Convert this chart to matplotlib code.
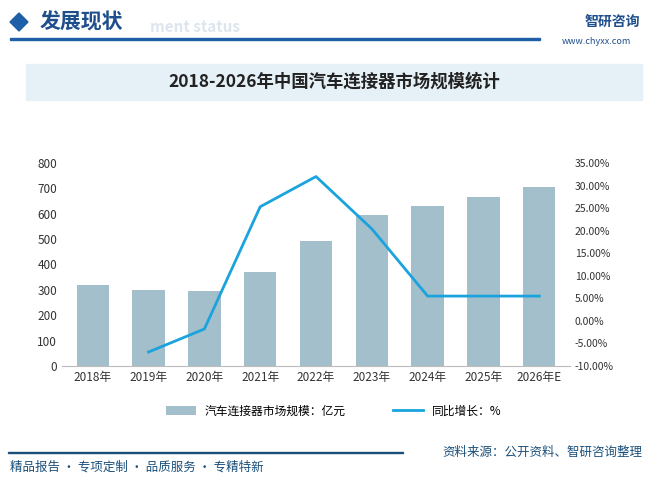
import matplotlib.pyplot as plt
import numpy as np
from matplotlib.patches import Rectangle, Polygon

plt.rcParams['font.family'] = ['Noto Sans CJK SC', 'DejaVu Sans']

years = ['2018年', '2019年', '2020年', '2021年', '2022年', '2023年', '2024年', '2025年', '2026年E']
market = [320, 299, 295, 370, 492, 597, 632, 667, 707]
growth = [None, -6.9, -1.8, 25.3, 32.0, 20.4, 5.5, 5.5, 5.5]

fig = plt.figure(figsize=(6.68, 4.82), dpi=100)
W, H = 668, 482

def fx(x): return x / W
def fy(y): return 1 - y / H

# header
fig.patches.append(Polygon([[fx(10), fy(22)], [fx(19), fy(13)], [fx(28), fy(22)], [fx(19), fy(31)]],
                           closed=True, color='#1f5fa8', transform=fig.transFigure))
fig.text(fx(40), fy(22), '发展现状', fontsize=15, fontweight='bold', color='#1f4e8c', va='center')
fig.text(fx(150), fy(27), 'ment status', fontsize=11, color='#dde6ee', va='center', fontweight='bold')
fig.patches.append(Rectangle((fx(10), fy(40)), fx(530), 2 / H, color='#1f5fa8', transform=fig.transFigure))
fig.text(fx(585), fy(22), '智研咨询', fontsize=10, color='#1f4e8c', va='center', fontweight='bold')
fig.text(fx(562), fy(42), 'www.chyxx.com', fontsize=6.5, color='#1f4e8c', va='center')

# title band
fig.patches.append(Rectangle((fx(26), fy(100)), fx(616), 36 / H, color='#e6f0f7', transform=fig.transFigure))
fig.text(0.5, fy(82), '2018-2026年中国汽车连接器市场规模统计', fontsize=12.5, fontweight='bold',
         color='#222222', ha='center', va='center')

ax = fig.add_axes([fx(62), fy(366), fx(508), 203 / H])
x = np.arange(len(years))
ax.bar(x, market, width=0.58, color='#a3bfcb', label='汽车连接器市场规模：亿元')
ax.set_ylim(0, 800)
ax.set_yticks(range(0, 801, 100))
ax.set_xlim(-0.55, len(years) - 0.45)
ax.set_xticks(x)
ax.set_xticklabels(years)
ax.tick_params(length=0, labelsize=8.5, colors='#333333')
for s in ['top', 'right', 'left']:
    ax.spines[s].set_visible(False)
ax.spines['bottom'].set_color('#bbbbbb')

ax2 = ax.twinx()
gx = [i for i, g in enumerate(growth) if g is not None]
gy = [g for g in growth if g is not None]
ax2.plot(gx, gy, color='#1aa3dc', lw=2, label='同比增长：%')
ax2.set_ylim(-10, 35)
ax2.set_yticks(np.arange(-10, 36, 5))
ax2.set_yticklabels(['%.2f%%' % v for v in np.arange(-10, 36, 5)])
ax2.tick_params(length=0, labelsize=7.5, colors='#333333')
for s in ['top', 'right', 'left', 'bottom']:
    ax2.spines[s].set_visible(False)

h1, l1 = ax.get_legend_handles_labels()
h2, l2 = ax2.get_legend_handles_labels()
fig.legend(h1 + h2, l1 + l2, loc='center', bbox_to_anchor=(0.5, fy(411)), ncol=2,
           frameon=False, fontsize=8.5, handlelength=2.5, columnspacing=4)

# footer
fig.patches.append(Rectangle((fx(8), fy(453)), fx(395), 1.2 / H, color='#1a4f7a', transform=fig.transFigure))
fig.text(fx(10), fy(467), '精品报告 · 专项定制 · 品质服务 · 专精特新', fontsize=9, color='#1a4f7a', va='center')
fig.text(fx(442), fy(452), '资料来源：公开资料、智研咨询整理', fontsize=9, color='#1a4f7a', va='center')

fig.savefig('out.png', dpi=100)
